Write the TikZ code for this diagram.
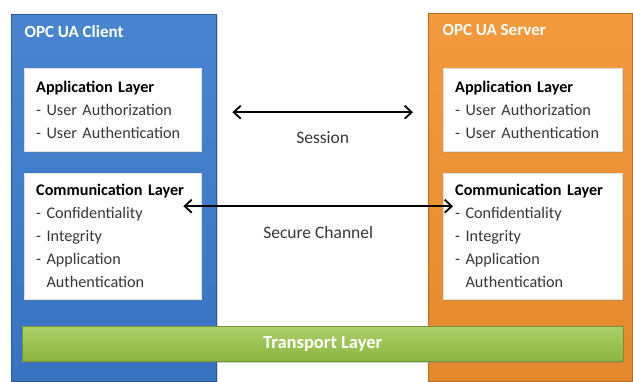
\documentclass[tikz,border=0pt]{standalone}
\usepackage{fontspec}
\setmainfont{Carlito}
\usepackage{tikz}
\usepackage{xcolor}
\usetikzlibrary{arrows.meta}
\usetikzlibrary{shadows}

\definecolor{clientblue}{HTML}{3A7ACD}
\definecolor{serverorange}{HTML}{F2912E}
\definecolor{transgreen}{HTML}{98C445}
\definecolor{itemgray}{HTML}{383838}

\begin{document}
\begin{tikzpicture}[x=1pt,y=-1pt,
    panel/.style={anchor=north west, inner sep=0pt, draw=#1!75!black,
      top color=#1!92!white, bottom color=#1!94!black,
      drop shadow={opacity=.35,shadow xshift=2pt,shadow yshift=-1pt}},
    layerbox/.style={anchor=north west, fill=white, draw=black!12,
      align=left, text width=153pt, inner xsep=12pt, inner ysep=0pt,
      font=\fontsize{16.2}{23}\selectfont, text=itemgray,
      drop shadow={opacity=.25,shadow xshift=1.5pt,shadow yshift=-1.5pt}},
    title/.style={anchor=west, text=white,
      font=\fontsize{17}{19}\selectfont\bfseries},
    link/.style={{Straight Barb[length=7pt,width=13pt]}-{Straight Barb[length=7pt,width=13pt]},
      line width=1.8pt, black},
    linklabel/.style={text=itemgray, font=\fontsize{17.5}{19}\selectfont}]
  \useasboundingbox (0,0) rectangle (633,381);

  % client and server stacks
  \node (cpanel) [panel=clientblue, minimum width=205pt, minimum height=367pt] at (11,14) {};
  \node (spanel) [panel=serverorange, minimum width=204pt, minimum height=368pt] at (428,13) {};
  \node (ctitle) [title] at (21,32) {OPC UA Client};
  \node (stitle) [title] at (439,30) {OPC UA Server};

  \node (capp) [layerbox, minimum height=83pt] at (24,68)
    {\textcolor{black}{\textbf{Application Layer}}\\- User Authorization\\- User Authentication};
  \node (ccom) [layerbox, minimum height=126pt] at (24,173)
    {\textcolor{black}{\textbf{Communication Layer}}\\- Confidentiality\\- Integrity\\- Application\\\phantom{- }Authentication};
  \node (sapp) [layerbox, minimum height=83pt, text width=155pt] at (443,68)
    {\textcolor{black}{\textbf{Application Layer}}\\- User Authorization\\- User Authentication};
  \node (scom) [layerbox, minimum height=126pt, text width=155pt] at (443,173)
    {\textcolor{black}{\textbf{Communication Layer}}\\- Confidentiality\\- Integrity\\- Application\\\phantom{- }Authentication};

  % transport bar across both stacks
  \node (trans) [anchor=north west, minimum width=601pt, minimum height=35pt,
    draw=transgreen!75!black, top color=transgreen!80!white, bottom color=transgreen!92!black,
    drop shadow={opacity=.35,shadow xshift=1pt,shadow yshift=-2pt},
    text=white, font=\fontsize{18.5}{20}\selectfont\bfseries] at (22,326) {Transport Layer};

  % session and secure channel
  \path (node cs:name=capp,anchor=east) +(31,2.5) coordinate (sesl);
  \path (node cs:name=sapp,anchor=west) +(-30,2.5) coordinate (sesr);
  \draw[link] (sesl) -- (sesr) node (ses) [linklabel, midway, yshift=-25pt] {Session};
  \path (node cs:name=ccom,anchor=east) +(-18,-30) coordinate (secl);
  \path (node cs:name=scom,anchor=west) +(10,-30) coordinate (secr);
  \draw[link] (secl) -- (secr) node (sec) [linklabel, midway, yshift=-26pt] {Secure Channel};
\end{tikzpicture}
\end{document}
